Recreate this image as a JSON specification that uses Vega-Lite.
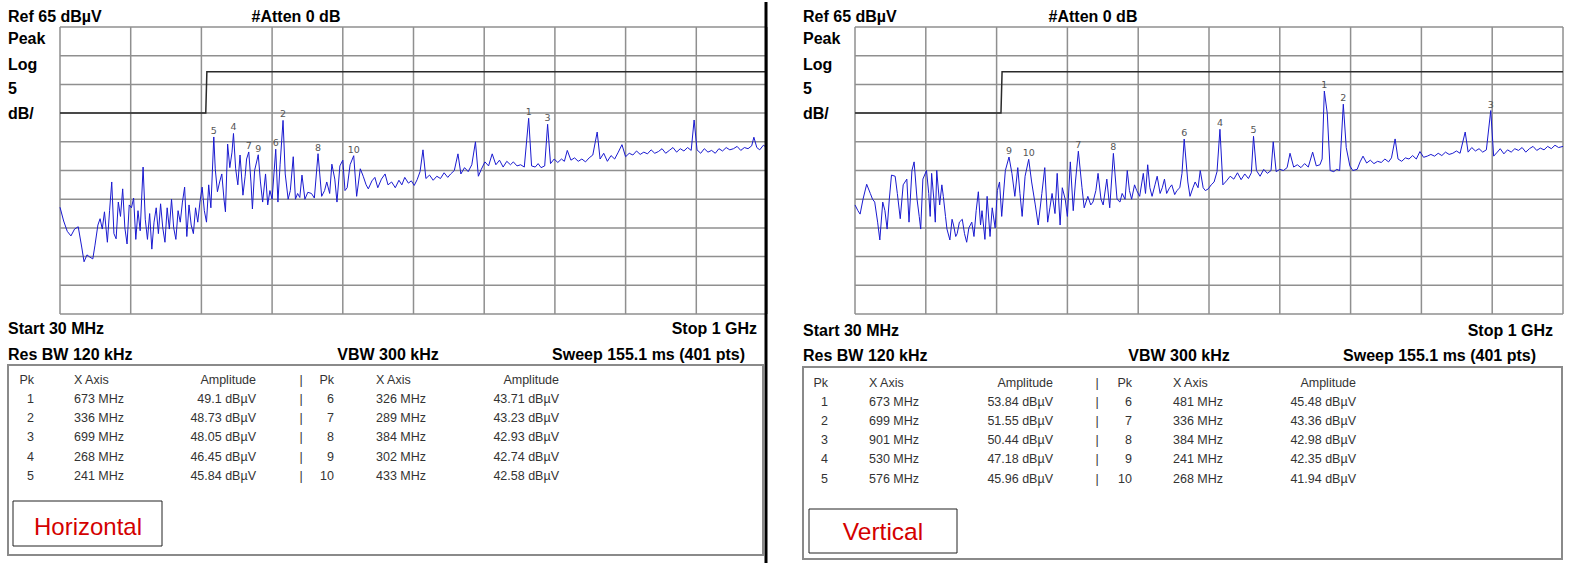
{
"$schema": "https://vega.github.io/schema/vega-lite/v6.json",
"padding": 0,
"background": "white",
"spacing": 25,
"config": {"view": {"stroke": null}},
"datasets": {
"gridF": [{"f":30},{"f":127},{"f":224},{"f":321},{"f":418},{"f":515},{"f":612},{"f":709},{"f":806},{"f":903},{"f":1000}],
"gridL": [{"v":15},{"v":20},{"v":25},{"v":30},{"v":35},{"v":40},{"v":45},{"v":50},{"v":55},{"v":60},{"v":65}],
"limit": [{"f":30,"v":50},{"f":230,"v":50},{"f":231.5,"v":57.2},{"f":1000,"v":57.2}],
"traceH": [{"f":30,"v":33.6},{"f":35,"v":31.2},{"f":40,"v":29.4},{"f":45,"v":28.6},{"f":50,"v":29.8},{"f":55,"v":30.2},{"f":60,"v":26.5},{"f":63,"v":24.1},{"f":67,"v":25.3},{"f":70,"v":25.0},{"f":75,"v":24.6},{"f":78,"v":27.0},{"f":82,"v":30.5},{"f":85,"v":31.6},{"f":88,"v":29.8},{"f":91,"v":32.8},{"f":95,"v":27.5},{"f":98,"v":33.0},{"f":101,"v":38.0},{"f":104,"v":29.0},{"f":107,"v":28.1},{"f":110,"v":34.5},{"f":113,"v":32.0},{"f":116,"v":36.8},{"f":119,"v":30.0},{"f":122,"v":27.2},{"f":125,"v":34.0},{"f":128,"v":33.5},{"f":131,"v":35.2},{"f":134,"v":28.0},{"f":137,"v":33.0},{"f":140,"v":29.5},{"f":144,"v":40.6},{"f":147,"v":31.5},{"f":150,"v":28.0},{"f":153,"v":32.5},{"f":156,"v":26.3},{"f":159,"v":31.0},{"f":162,"v":33.5},{"f":165,"v":29.0},{"f":168,"v":34.2},{"f":171,"v":30.0},{"f":174,"v":27.5},{"f":177,"v":33.5},{"f":180,"v":29.8},{"f":183,"v":35.0},{"f":186,"v":30.0},{"f":189,"v":28.0},{"f":192,"v":33.0},{"f":195,"v":31.0},{"f":198,"v":34.5},{"f":201,"v":37.1},{"f":204,"v":28.5},{"f":207,"v":34.0},{"f":210,"v":30.5},{"f":213,"v":29.0},{"f":216,"v":33.5},{"f":219,"v":31.0},{"f":222,"v":34.5},{"f":225,"v":37.1},{"f":228,"v":33.0},{"f":231,"v":31.0},{"f":234,"v":37.5},{"f":237,"v":33.5},{"f":241,"v":45.84},{"f":243,"v":40.3},{"f":246,"v":36.3},{"f":249,"v":38.0},{"f":252,"v":39.4},{"f":255,"v":35.0},{"f":257,"v":32.8},{"f":260,"v":44.6},{"f":263,"v":40.5},{"f":266,"v":43.2},{"f":268,"v":46.45},{"f":271,"v":40.3},{"f":274,"v":37.5},{"f":277,"v":42.7},{"f":281,"v":35.7},{"f":284,"v":39.0},{"f":286,"v":42.0},{"f":289,"v":43.23},{"f":292,"v":38.0},{"f":294,"v":33.3},{"f":297,"v":40.0},{"f":302,"v":42.74},{"f":305,"v":38.0},{"f":308,"v":34.5},{"f":312,"v":39.4},{"f":315,"v":34.0},{"f":318,"v":36.5},{"f":321,"v":35.0},{"f":326,"v":43.71},{"f":329,"v":34.5},{"f":332,"v":41.1},{"f":336,"v":48.73},{"f":339,"v":39.4},{"f":343,"v":35.0},{"f":346,"v":36.5},{"f":350,"v":42.4},{"f":353,"v":35.0},{"f":356,"v":36.0},{"f":359,"v":35.3},{"f":362,"v":39.2},{"f":366,"v":35.0},{"f":370,"v":36.2},{"f":375,"v":36.0},{"f":379,"v":35.2},{"f":384,"v":42.93},{"f":389,"v":35.5},{"f":393,"v":36.5},{"f":396,"v":38.0},{"f":400,"v":36.0},{"f":403,"v":41.1},{"f":407,"v":38.5},{"f":410,"v":34.5},{"f":414,"v":40.8},{"f":418,"v":41.8},{"f":421,"v":36.5},{"f":424,"v":37.0},{"f":428,"v":41.0},{"f":433,"v":42.58},{"f":437,"v":35.5},{"f":442,"v":40.3},{"f":446,"v":39.0},{"f":450,"v":37.5},{"f":453,"v":36.8},{"f":458,"v":38.2},{"f":462,"v":38.8},{"f":466,"v":37.0},{"f":471,"v":38.5},{"f":476,"v":39.4},{"f":480,"v":37.5},{"f":485,"v":38.0},{"f":490,"v":37.0},{"f":495,"v":38.3},{"f":499,"v":37.5},{"f":503,"v":38.8},{"f":508,"v":37.8},{"f":512,"v":38.2},{"f":516,"v":37.4},{"f":520,"v":38.4},{"f":524,"v":39.8},{"f":528,"v":43.6},{"f":532,"v":38.6},{"f":537,"v":39.2},{"f":542,"v":38.3},{"f":547,"v":39.0},{"f":552,"v":38.6},{"f":557,"v":39.6},{"f":562,"v":38.8},{"f":566,"v":39.4},{"f":571,"v":40.0},{"f":576,"v":42.9},{"f":580,"v":39.4},{"f":585,"v":40.5},{"f":590,"v":39.8},{"f":595,"v":41.0},{"f":600,"v":45.0},{"f":604,"v":39.0},{"f":608,"v":40.2},{"f":613,"v":41.5},{"f":618,"v":40.8},{"f":623,"v":42.9},{"f":628,"v":41.0},{"f":633,"v":41.8},{"f":638,"v":40.6},{"f":643,"v":41.6},{"f":648,"v":41.0},{"f":652,"v":41.5},{"f":657,"v":40.8},{"f":662,"v":41.0},{"f":667,"v":40.6},{"f":673,"v":49.1},{"f":677,"v":40.8},{"f":682,"v":40.6},{"f":686,"v":41.2},{"f":690,"v":40.5},{"f":695,"v":40.8},{"f":699,"v":48.05},{"f":703,"v":41.2},{"f":708,"v":42.0},{"f":713,"v":41.4},{"f":718,"v":42.0},{"f":722,"v":41.6},{"f":726,"v":43.5},{"f":731,"v":41.8},{"f":736,"v":42.2},{"f":741,"v":41.6},{"f":746,"v":42.0},{"f":751,"v":41.5},{"f":756,"v":42.2},{"f":761,"v":42.7},{"f":767,"v":46.7},{"f":771,"v":42.0},{"f":776,"v":43.0},{"f":781,"v":41.6},{"f":786,"v":42.6},{"f":791,"v":42.0},{"f":796,"v":43.2},{"f":801,"v":44.5},{"f":806,"v":42.4},{"f":811,"v":43.0},{"f":816,"v":42.7},{"f":821,"v":43.4},{"f":826,"v":42.8},{"f":831,"v":43.2},{"f":836,"v":42.9},{"f":841,"v":43.6},{"f":846,"v":43.0},{"f":851,"v":43.3},{"f":856,"v":43.8},{"f":861,"v":43.0},{"f":866,"v":43.5},{"f":871,"v":44.0},{"f":876,"v":43.2},{"f":881,"v":43.8},{"f":886,"v":43.4},{"f":891,"v":44.0},{"f":896,"v":43.5},{"f":900,"v":48.8},{"f":904,"v":43.6},{"f":909,"v":43.0},{"f":914,"v":43.8},{"f":919,"v":43.2},{"f":924,"v":43.5},{"f":929,"v":43.0},{"f":934,"v":43.8},{"f":939,"v":43.4},{"f":944,"v":44.0},{"f":949,"v":43.6},{"f":954,"v":43.8},{"f":959,"v":44.2},{"f":964,"v":43.5},{"f":969,"v":44.0},{"f":974,"v":43.8},{"f":979,"v":44.3},{"f":982,"v":45.8},{"f":986,"v":44.0},{"f":990,"v":43.6},{"f":995,"v":44.4},{"f":1000,"v":44.0}],
"traceV": [{"f":30,"v":34.0},{"f":34,"v":33.0},{"f":37,"v":32.4},{"f":41,"v":35.0},{"f":46,"v":37.6},{"f":51,"v":36.0},{"f":54,"v":35.0},{"f":57,"v":34.5},{"f":61,"v":31.0},{"f":64,"v":27.9},{"f":68,"v":34.5},{"f":71,"v":33.0},{"f":74,"v":29.8},{"f":77,"v":35.0},{"f":80,"v":39.2},{"f":85,"v":39.0},{"f":88,"v":36.0},{"f":92,"v":31.6},{"f":96,"v":37.5},{"f":101,"v":38.5},{"f":104,"v":31.0},{"f":108,"v":40.0},{"f":111,"v":41.5},{"f":115,"v":35.0},{"f":118,"v":32.0},{"f":120,"v":29.8},{"f":123,"v":38.5},{"f":128,"v":40.0},{"f":131,"v":36.0},{"f":133,"v":32.0},{"f":135,"v":39.5},{"f":138,"v":35.0},{"f":140,"v":31.0},{"f":142,"v":40.0},{"f":146,"v":34.0},{"f":149,"v":37.5},{"f":151,"v":35.5},{"f":154,"v":32.0},{"f":156,"v":29.8},{"f":160,"v":27.9},{"f":163,"v":31.5},{"f":165,"v":30.5},{"f":168,"v":28.5},{"f":170,"v":29.0},{"f":173,"v":31.0},{"f":177,"v":31.5},{"f":180,"v":29.0},{"f":183,"v":27.5},{"f":186,"v":30.0},{"f":190,"v":31.0},{"f":193,"v":28.5},{"f":196,"v":33.0},{"f":199,"v":36.3},{"f":202,"v":30.5},{"f":204,"v":33.0},{"f":208,"v":28.0},{"f":211,"v":35.5},{"f":215,"v":28.5},{"f":218,"v":33.5},{"f":222,"v":30.0},{"f":225,"v":36.5},{"f":228,"v":38.0},{"f":231,"v":32.0},{"f":236,"v":40.0},{"f":241,"v":42.35},{"f":245,"v":39.5},{"f":249,"v":35.5},{"f":253,"v":40.5},{"f":256,"v":36.0},{"f":259,"v":32.0},{"f":263,"v":39.0},{"f":268,"v":41.94},{"f":272,"v":38.0},{"f":277,"v":34.0},{"f":281,"v":30.5},{"f":286,"v":36.0},{"f":290,"v":40.5},{"f":294,"v":31.0},{"f":297,"v":33.5},{"f":300,"v":36.0},{"f":304,"v":32.5},{"f":307,"v":39.5},{"f":311,"v":30.5},{"f":314,"v":37.0},{"f":318,"v":35.0},{"f":321,"v":32.0},{"f":325,"v":41.5},{"f":329,"v":33.0},{"f":332,"v":38.0},{"f":336,"v":43.36},{"f":341,"v":37.0},{"f":344,"v":33.5},{"f":349,"v":35.5},{"f":353,"v":34.0},{"f":356,"v":34.5},{"f":360,"v":36.5},{"f":363,"v":39.5},{"f":367,"v":35.0},{"f":370,"v":34.0},{"f":375,"v":38.5},{"f":379,"v":33.5},{"f":384,"v":42.98},{"f":389,"v":35.0},{"f":393,"v":34.5},{"f":396,"v":36.0},{"f":400,"v":35.0},{"f":403,"v":40.0},{"f":406,"v":36.5},{"f":409,"v":35.0},{"f":413,"v":37.5},{"f":416,"v":36.5},{"f":420,"v":35.5},{"f":425,"v":39.5},{"f":428,"v":36.0},{"f":431,"v":41.0},{"f":434,"v":37.0},{"f":437,"v":35.5},{"f":441,"v":37.5},{"f":444,"v":39.0},{"f":448,"v":36.0},{"f":451,"v":37.0},{"f":454,"v":38.5},{"f":457,"v":36.0},{"f":461,"v":37.0},{"f":464,"v":37.5},{"f":468,"v":35.8},{"f":471,"v":36.5},{"f":475,"v":37.0},{"f":478,"v":39.5},{"f":481,"v":45.48},{"f":486,"v":38.0},{"f":489,"v":35.5},{"f":493,"v":37.0},{"f":496,"v":38.0},{"f":500,"v":37.0},{"f":503,"v":40.0},{"f":507,"v":37.0},{"f":510,"v":36.5},{"f":514,"v":36.8},{"f":518,"v":37.5},{"f":522,"v":38.0},{"f":526,"v":39.8},{"f":530,"v":47.18},{"f":534,"v":37.5},{"f":539,"v":38.2},{"f":544,"v":39.0},{"f":549,"v":38.5},{"f":554,"v":39.6},{"f":559,"v":38.4},{"f":564,"v":39.4},{"f":569,"v":38.6},{"f":573,"v":39.6},{"f":576,"v":45.96},{"f":580,"v":40.0},{"f":585,"v":39.0},{"f":590,"v":40.2},{"f":595,"v":39.5},{"f":600,"v":40.0},{"f":603,"v":45.0},{"f":607,"v":39.8},{"f":612,"v":40.2},{"f":617,"v":40.0},{"f":622,"v":40.5},{"f":626,"v":43.0},{"f":631,"v":40.6},{"f":636,"v":41.0},{"f":641,"v":40.5},{"f":646,"v":41.2},{"f":651,"v":40.6},{"f":657,"v":43.2},{"f":662,"v":40.8},{"f":667,"v":41.0},{"f":670,"v":42.0},{"f":673,"v":53.84},{"f":677,"v":50.0},{"f":681,"v":40.0},{"f":686,"v":39.8},{"f":690,"v":40.2},{"f":694,"v":40.0},{"f":699,"v":51.55},{"f":703,"v":44.0},{"f":708,"v":40.8},{"f":712,"v":40.0},{"f":718,"v":40.2},{"f":722,"v":41.5},{"f":726,"v":42.5},{"f":731,"v":41.3},{"f":736,"v":41.8},{"f":741,"v":41.2},{"f":746,"v":41.6},{"f":751,"v":41.4},{"f":756,"v":42.0},{"f":761,"v":41.5},{"f":765,"v":42.2},{"f":770,"v":45.5},{"f":774,"v":42.0},{"f":779,"v":41.6},{"f":784,"v":42.2},{"f":789,"v":42.0},{"f":794,"v":42.6},{"f":799,"v":42.0},{"f":804,"v":43.3},{"f":809,"v":42.3},{"f":814,"v":42.5},{"f":819,"v":42.8},{"f":824,"v":42.5},{"f":829,"v":43.0},{"f":834,"v":42.6},{"f":839,"v":43.2},{"f":844,"v":42.8},{"f":849,"v":43.0},{"f":854,"v":43.4},{"f":859,"v":43.0},{"f":866,"v":46.7},{"f":870,"v":43.2},{"f":875,"v":44.0},{"f":880,"v":43.4},{"f":885,"v":43.8},{"f":890,"v":43.2},{"f":895,"v":43.6},{"f":901,"v":50.44},{"f":905,"v":42.5},{"f":910,"v":43.2},{"f":914,"v":43.8},{"f":919,"v":42.9},{"f":924,"v":43.6},{"f":929,"v":43.2},{"f":934,"v":43.8},{"f":939,"v":43.5},{"f":944,"v":44.0},{"f":949,"v":43.2},{"f":954,"v":43.8},{"f":959,"v":44.2},{"f":964,"v":43.5},{"f":969,"v":43.9},{"f":974,"v":43.6},{"f":979,"v":44.2},{"f":984,"v":43.8},{"f":989,"v":44.4},{"f":994,"v":44.0},{"f":1000,"v":44.2}],
"mkH": [{"pk":"1","f":673,"v":49.1},{"pk":"2","f":336,"v":48.73},{"pk":"3","f":699,"v":48.05},{"pk":"4","f":268,"v":46.45},{"pk":"5","f":241,"v":45.84},{"pk":"6","f":326,"v":43.71},{"pk":"7","f":289,"v":43.23},{"pk":"8","f":384,"v":42.93},{"pk":"9","f":302,"v":42.74},{"pk":"10","f":433,"v":42.58}],
"mkV": [{"pk":"1","f":673,"v":53.84},{"pk":"2","f":699,"v":51.55},{"pk":"3","f":901,"v":50.44},{"pk":"4","f":530,"v":47.18},{"pk":"5","f":576,"v":45.96},{"pk":"6","f":481,"v":45.48},{"pk":"7","f":336,"v":43.36},{"pk":"8","f":384,"v":42.98},{"pk":"9","f":241,"v":42.35},{"pk":"10","f":268,"v":41.94}],
"scr": [{"t":"Ref 65 dBµV","gx":0,"gy":1},{"t":"#Atten 0 dB","gx":7,"gy":1},{"t":"Peak","gx":0,"gy":2},{"t":"Log","gx":0,"gy":3},{"t":"5","gx":0,"gy":4},{"t":"dB/","gx":0,"gy":5},{"t":"Start 30 MHz","gx":0,"gy":6},{"t":"Stop 1 GHz","gx":14,"gy":6},{"t":"Res BW 120 kHz","gx":0,"gy":7},{"t":"VBW 300 kHz","gx":11,"gy":7},{"t":"Sweep 155.1 ms (401 pts)","gx":13,"gy":7}],
"boxes": [{"k":"table","gx":0,"gx2":15,"gy":8,"gy2":18},{"k":"label","gx":1,"gx2":5,"gy":15,"gy2":17}],
"div": [{"gx":16,"gy":0,"gy2":19}],
"tabH": [{"t":"Pk","gx":2,"gy":9},{"t":"X Axis","gx":3,"gy":9},{"t":"Amplitude","gx":6,"gy":9},{"t":"|","gx":8,"gy":9},{"t":"Pk","gx":9,"gy":9},{"t":"X Axis","gx":10,"gy":9},{"t":"Amplitude","gx":12,"gy":9},
{"t":"1","gx":2,"gy":10},{"t":"673 MHz","gx":3,"gy":10},{"t":"49.1 dBµV","gx":6,"gy":10},{"t":"|","gx":8,"gy":10},{"t":"6","gx":9,"gy":10},{"t":"326 MHz","gx":10,"gy":10},{"t":"43.71 dBµV","gx":12,"gy":10},
{"t":"2","gx":2,"gy":11},{"t":"336 MHz","gx":3,"gy":11},{"t":"48.73 dBµV","gx":6,"gy":11},{"t":"|","gx":8,"gy":11},{"t":"7","gx":9,"gy":11},{"t":"289 MHz","gx":10,"gy":11},{"t":"43.23 dBµV","gx":12,"gy":11},
{"t":"3","gx":2,"gy":12},{"t":"699 MHz","gx":3,"gy":12},{"t":"48.05 dBµV","gx":6,"gy":12},{"t":"|","gx":8,"gy":12},{"t":"8","gx":9,"gy":12},{"t":"384 MHz","gx":10,"gy":12},{"t":"42.93 dBµV","gx":12,"gy":12},
{"t":"4","gx":2,"gy":13},{"t":"268 MHz","gx":3,"gy":13},{"t":"46.45 dBµV","gx":6,"gy":13},{"t":"|","gx":8,"gy":13},{"t":"9","gx":9,"gy":13},{"t":"302 MHz","gx":10,"gy":13},{"t":"42.74 dBµV","gx":12,"gy":13},
{"t":"5","gx":2,"gy":14},{"t":"241 MHz","gx":3,"gy":14},{"t":"45.84 dBµV","gx":6,"gy":14},{"t":"|","gx":8,"gy":14},{"t":"10","gx":9,"gy":14},{"t":"433 MHz","gx":10,"gy":14},{"t":"42.58 dBµV","gx":12,"gy":14}],
"tabV": [{"t":"Pk","gx":2,"gy":9},{"t":"X Axis","gx":3,"gy":9},{"t":"Amplitude","gx":6,"gy":9},{"t":"|","gx":8,"gy":9},{"t":"Pk","gx":9,"gy":9},{"t":"X Axis","gx":10,"gy":9},{"t":"Amplitude","gx":12,"gy":9},
{"t":"1","gx":2,"gy":10},{"t":"673 MHz","gx":3,"gy":10},{"t":"53.84 dBµV","gx":6,"gy":10},{"t":"|","gx":8,"gy":10},{"t":"6","gx":9,"gy":10},{"t":"481 MHz","gx":10,"gy":10},{"t":"45.48 dBµV","gx":12,"gy":10},
{"t":"2","gx":2,"gy":11},{"t":"699 MHz","gx":3,"gy":11},{"t":"51.55 dBµV","gx":6,"gy":11},{"t":"|","gx":8,"gy":11},{"t":"7","gx":9,"gy":11},{"t":"336 MHz","gx":10,"gy":11},{"t":"43.36 dBµV","gx":12,"gy":11},
{"t":"3","gx":2,"gy":12},{"t":"901 MHz","gx":3,"gy":12},{"t":"50.44 dBµV","gx":6,"gy":12},{"t":"|","gx":8,"gy":12},{"t":"8","gx":9,"gy":12},{"t":"384 MHz","gx":10,"gy":12},{"t":"42.98 dBµV","gx":12,"gy":12},
{"t":"4","gx":2,"gy":13},{"t":"530 MHz","gx":3,"gy":13},{"t":"47.18 dBµV","gx":6,"gy":13},{"t":"|","gx":8,"gy":13},{"t":"9","gx":9,"gy":13},{"t":"241 MHz","gx":10,"gy":13},{"t":"42.35 dBµV","gx":12,"gy":13},
{"t":"5","gx":2,"gy":14},{"t":"576 MHz","gx":3,"gy":14},{"t":"45.96 dBµV","gx":6,"gy":14},{"t":"|","gx":8,"gy":14},{"t":"10","gx":9,"gy":14},{"t":"268 MHz","gx":10,"gy":14},{"t":"41.94 dBµV","gx":12,"gy":14}],
"labH": [{"t":"Horizontal","gx":4,"gy":16}],
"labV": [{"t":"Vertical","gx":4,"gy":16}]
},
"hconcat": [
{
"width": 770, "height": 563,
"resolve": {"scale": {"x": "independent", "y": "independent"}},
"layer": [
{
"layer": [
{"data":{"name":"gridF"},"mark":{"type":"rule","stroke":"#8f8f8f","strokeWidth":1.5},"encoding":{
"x":{"field":"f","type":"quantitative","axis":null,"scale":{"domain":[30,1000],"range":[60,767],"zero":false,"nice":false}},
"y":{"datum":15,"type":"quantitative","axis":null,"scale":{"domain":[15,65],"range":[312,25],"zero":false,"nice":false}},"y2":{"datum":65}}},
{"data":{"name":"gridL"},"mark":{"type":"rule","stroke":"#8f8f8f","strokeWidth":1.5},"encoding":{
"x":{"datum":30,"type":"quantitative","axis":null,"scale":{"domain":[30,1000],"range":[60,767],"zero":false,"nice":false}},"x2":{"datum":1000},
"y":{"field":"v","type":"quantitative","axis":null,"scale":{"domain":[15,65],"range":[312,25],"zero":false,"nice":false}}}},
{"data":{"name":"limit"},"mark":{"type":"line","stroke":"#2a2a2a","strokeWidth":1.5},"encoding":{
"x":{"field":"f","type":"quantitative","axis":null,"scale":{"domain":[30,1000],"range":[60,767],"zero":false,"nice":false}},
"y":{"field":"v","type":"quantitative","axis":null,"scale":{"domain":[15,65],"range":[312,25],"zero":false,"nice":false}}}},
{"data":{"name":"traceH"},"mark":{"type":"line","stroke":"#1a1ad0","strokeWidth":1},"encoding":{
"x":{"field":"f","type":"quantitative","axis":null,"scale":{"domain":[30,1000],"range":[60,767],"zero":false,"nice":false}},
"y":{"field":"v","type":"quantitative","axis":null,"scale":{"domain":[15,65],"range":[312,25],"zero":false,"nice":false}}}},
{"data":{"name":"mkH"},"mark":{"type":"text","baseline":"alphabetic","dy":-3,"fontSize":9.5,"font":"DejaVu Sans","fill":"#555"},"encoding":{
"x":{"field":"f","type":"quantitative","axis":null,"scale":{"domain":[30,1000],"range":[60,767],"zero":false,"nice":false}},
"y":{"field":"v","type":"quantitative","axis":null,"scale":{"domain":[15,65],"range":[312,25],"zero":false,"nice":false}},
"text":{"field":"pk"}}}
]
},
{
"encoding": {
"x": {"field":"gx","type":"quantitative","axis":null,"scale":{"domain":[0,1,2,3,4,5,6,7,8,9,10,11,12,13,14,15,16],"range":[8,13,34,74,88,162,256,296,301,334,376,388,559,745,757,763,766],"zero":false,"nice":false}},
"y": {"field":"gy","type":"quantitative","axis":null,"scale":{"domain":[0,1,2,3,4,5,6,7,8,9,10,11,12,13,14,15,16,17,18,19],"range":[0,19.5,41.7,68,91.7,116.7,332,358,363,381.7,401,420.2,439.4,458.6,477.8,499,533,544,553,563],"zero":false,"nice":false}}
},
"layer": [
{"data":{"name":"boxes"},"transform":[{"filter":"datum.k=='table'"}],"mark":{"type":"rect","fill":"transparent","stroke":"#8a8a8a","strokeWidth":2},"encoding":{"x2":{"field":"gx2"},"y2":{"field":"gy2"}}},
{"data":{"name":"boxes"},"transform":[{"filter":"datum.k=='label'"}],"mark":{"type":"rect","fill":"transparent","stroke":"#222","strokeWidth":1},"encoding":{"x2":{"field":"gx2"},"y2":{"field":"gy2"}}},
{"data":{"name":"div"},"mark":{"type":"rule","stroke":"#000","strokeWidth":3},"encoding":{"y2":{"field":"gy2"}}},
{"data":{"name":"scr"},"transform":[{"filter":"datum.gx==0"}],"mark":{"type":"text","align":"left","baseline":"alphabetic","font":"Liberation Sans","fontWeight":"bold","fontSize":16,"fill":"#000"},"encoding":{"text":{"field":"t"}}},
{"data":{"name":"scr"},"transform":[{"filter":"datum.gx==7 || datum.gx==11"}],"mark":{"type":"text","align":"center","baseline":"alphabetic","font":"Liberation Sans","fontWeight":"bold","fontSize":16,"fill":"#000"},"encoding":{"text":{"field":"t"}}},
{"data":{"name":"scr"},"transform":[{"filter":"datum.gx==13 || datum.gx==14"}],"mark":{"type":"text","align":"right","baseline":"alphabetic","font":"Liberation Sans","fontWeight":"bold","fontSize":16,"fill":"#000"},"encoding":{"text":{"field":"t"}}},
{"data":{"name":"tabH"},"transform":[{"filter":"datum.gx==3 || datum.gx==10"}],"mark":{"type":"text","align":"left","baseline":"alphabetic","font":"Liberation Sans","fontSize":12.5,"fill":"#333"},"encoding":{"text":{"field":"t"}}},
{"data":{"name":"tabH"},"transform":[{"filter":"datum.gx==2 || datum.gx==6 || datum.gx==9 || datum.gx==12"}],"mark":{"type":"text","align":"right","baseline":"alphabetic","font":"Liberation Sans","fontSize":12.5,"fill":"#333"},"encoding":{"text":{"field":"t"}}},
{"data":{"name":"tabH"},"transform":[{"filter":"datum.gx==8"}],"mark":{"type":"text","align":"center","baseline":"alphabetic","font":"Liberation Sans","fontSize":12.5,"fill":"#333"},"encoding":{"text":{"field":"t"}}},
{"data":{"name":"labH"},"mark":{"type":"text","align":"center","baseline":"alphabetic","font":"Liberation Sans","fontSize":24,"fill":"#d40000"},"encoding":{"text":{"field":"t"}}}
]
}
]
},
{
"width": 770, "height": 563,
"resolve": {"scale": {"x": "independent", "y": "independent"}},
"layer": [
{
"layer": [
{"data":{"name":"gridF"},"mark":{"type":"rule","stroke":"#8f8f8f","strokeWidth":1.5},"encoding":{
"x":{"field":"f","type":"quantitative","axis":null,"scale":{"domain":[30,1000],"range":[60,768],"zero":false,"nice":false}},
"y":{"datum":15,"type":"quantitative","axis":null,"scale":{"domain":[15,65],"range":[312,25],"zero":false,"nice":false}},"y2":{"datum":65}}},
{"data":{"name":"gridL"},"mark":{"type":"rule","stroke":"#8f8f8f","strokeWidth":1.5},"encoding":{
"x":{"datum":30,"type":"quantitative","axis":null,"scale":{"domain":[30,1000],"range":[60,768],"zero":false,"nice":false}},"x2":{"datum":1000},
"y":{"field":"v","type":"quantitative","axis":null,"scale":{"domain":[15,65],"range":[312,25],"zero":false,"nice":false}}}},
{"data":{"name":"limit"},"mark":{"type":"line","stroke":"#2a2a2a","strokeWidth":1.5},"encoding":{
"x":{"field":"f","type":"quantitative","axis":null,"scale":{"domain":[30,1000],"range":[60,768],"zero":false,"nice":false}},
"y":{"field":"v","type":"quantitative","axis":null,"scale":{"domain":[15,65],"range":[312,25],"zero":false,"nice":false}}}},
{"data":{"name":"traceV"},"mark":{"type":"line","stroke":"#1a1ad0","strokeWidth":1},"encoding":{
"x":{"field":"f","type":"quantitative","axis":null,"scale":{"domain":[30,1000],"range":[60,768],"zero":false,"nice":false}},
"y":{"field":"v","type":"quantitative","axis":null,"scale":{"domain":[15,65],"range":[312,25],"zero":false,"nice":false}}}},
{"data":{"name":"mkV"},"mark":{"type":"text","baseline":"alphabetic","dy":-3,"fontSize":9.5,"font":"DejaVu Sans","fill":"#555"},"encoding":{
"x":{"field":"f","type":"quantitative","axis":null,"scale":{"domain":[30,1000],"range":[60,768],"zero":false,"nice":false}},
"y":{"field":"v","type":"quantitative","axis":null,"scale":{"domain":[15,65],"range":[312,25],"zero":false,"nice":false}},
"text":{"field":"pk"}}}
]
},
{
"encoding": {
"x": {"field":"gx","type":"quantitative","axis":null,"scale":{"domain":[0,1,2,3,4,5,6,7,8,9,10,11,12,13,14,15,16],"range":[8,14,33,74,88,162,258,298,302,337,378,384,561,741,758,767,770],"zero":false,"nice":false}},
"y": {"field":"gy","type":"quantitative","axis":null,"scale":{"domain":[0,1,2,3,4,5,6,7,8,9,10,11,12,13,14,15,16,17,18,19],"range":[0,19.5,41.7,68,91.7,116.7,334,359,365,385,404.1,423.2,442.3,461.4,480.5,507,538,551,557,563],"zero":false,"nice":false}}
},
"layer": [
{"data":{"name":"boxes"},"transform":[{"filter":"datum.k=='table'"}],"mark":{"type":"rect","fill":"transparent","stroke":"#8a8a8a","strokeWidth":2},"encoding":{"x2":{"field":"gx2"},"y2":{"field":"gy2"}}},
{"data":{"name":"boxes"},"transform":[{"filter":"datum.k=='label'"}],"mark":{"type":"rect","fill":"transparent","stroke":"#222","strokeWidth":1},"encoding":{"x2":{"field":"gx2"},"y2":{"field":"gy2"}}},
{"data":{"name":"scr"},"transform":[{"filter":"datum.gx==0"}],"mark":{"type":"text","align":"left","baseline":"alphabetic","font":"Liberation Sans","fontWeight":"bold","fontSize":16,"fill":"#000"},"encoding":{"text":{"field":"t"}}},
{"data":{"name":"scr"},"transform":[{"filter":"datum.gx==7 || datum.gx==11"}],"mark":{"type":"text","align":"center","baseline":"alphabetic","font":"Liberation Sans","fontWeight":"bold","fontSize":16,"fill":"#000"},"encoding":{"text":{"field":"t"}}},
{"data":{"name":"scr"},"transform":[{"filter":"datum.gx==13 || datum.gx==14"}],"mark":{"type":"text","align":"right","baseline":"alphabetic","font":"Liberation Sans","fontWeight":"bold","fontSize":16,"fill":"#000"},"encoding":{"text":{"field":"t"}}},
{"data":{"name":"tabV"},"transform":[{"filter":"datum.gx==3 || datum.gx==10"}],"mark":{"type":"text","align":"left","baseline":"alphabetic","font":"Liberation Sans","fontSize":12.5,"fill":"#333"},"encoding":{"text":{"field":"t"}}},
{"data":{"name":"tabV"},"transform":[{"filter":"datum.gx==2 || datum.gx==6 || datum.gx==9 || datum.gx==12"}],"mark":{"type":"text","align":"right","baseline":"alphabetic","font":"Liberation Sans","fontSize":12.5,"fill":"#333"},"encoding":{"text":{"field":"t"}}},
{"data":{"name":"tabV"},"transform":[{"filter":"datum.gx==8"}],"mark":{"type":"text","align":"center","baseline":"alphabetic","font":"Liberation Sans","fontSize":12.5,"fill":"#333"},"encoding":{"text":{"field":"t"}}},
{"data":{"name":"labV"},"mark":{"type":"text","align":"center","baseline":"alphabetic","font":"Liberation Sans","fontSize":24.5,"fill":"#d40000"},"encoding":{"text":{"field":"t"}}}
]
}
]
}
]
}
